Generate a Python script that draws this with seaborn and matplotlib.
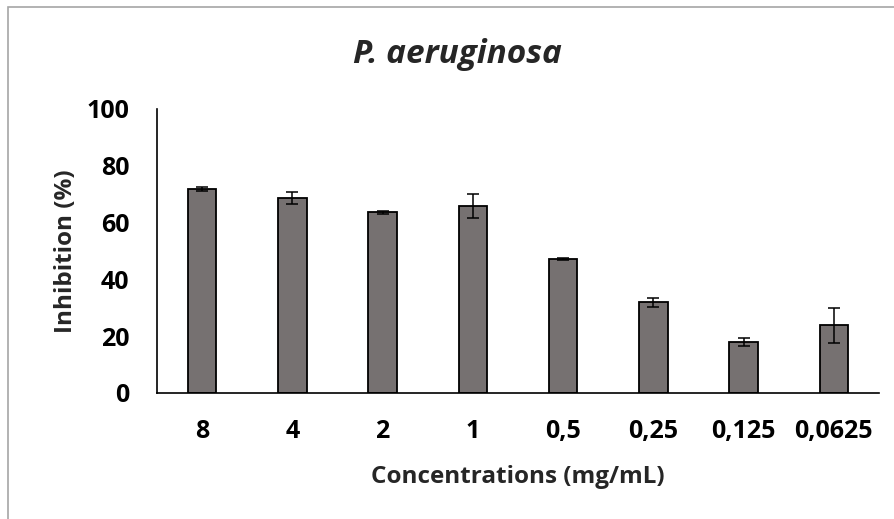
import matplotlib
matplotlib.use("Agg")
import matplotlib.pyplot as plt
import seaborn as sns
import pandas as pd
import numpy as np
from matplotlib.patches import Rectangle

categories = ["8", "4", "2", "1", "0,5", "0,25", "0,125", "0,0625"]
inhibition = [71.8, 68.5, 63.6, 65.9, 47.2, 31.9, 18.0, 23.9]
errors = [0.6, 2.1, 0.4, 4.3, 0.4, 1.6, 1.3, 6.2]
yticks = [0, 20, 40, 60, 80, 100]

sns.set_theme(style="white")
plt.rcParams['font.family'] = ['Open Sans', 'DejaVu Sans']

df = pd.DataFrame({"conc": categories, "inh": inhibition})

fig = plt.figure(figsize=(8.95, 5.19), dpi=100)
ax = fig.add_axes([157/895, 1-393/519, (879-157)/895, (393-109)/519])

sns.barplot(data=df, x="conc", y="inh", order=categories, color="#767171",
            saturation=1, width=0.314, edgecolor="black", linewidth=1.3, ax=ax,
            errorbar=None)

xs = [p.get_x() + p.get_width()/2 for p in ax.patches]
ax.errorbar(xs, inhibition, yerr=errors, fmt="none", ecolor="black",
            elinewidth=1.1, capsize=4.5, capthick=1.1, zorder=5)

ax.set_ylim(0, 100)
ax.set_xlim(-0.5, len(categories) - 0.5)
ax.set_yticks(yticks)
ax.set_yticklabels([str(t) for t in yticks])
ax.tick_params(axis="both", length=0, labelsize=18, colors="black")
ax.tick_params(axis="y", pad=20)
ax.tick_params(axis="x", pad=19)
for lbl in ax.get_xticklabels() + ax.get_yticklabels():
    lbl.set_fontweight("bold")

ax.set_xlabel("Concentrations (mg/mL)", fontsize=17.5, fontweight="bold", labelpad=15)
ax.set_ylabel("Inhibition (%)", fontsize=17.5, fontweight="bold", labelpad=6)

for s in ["top", "right"]:
    ax.spines[s].set_visible(False)
for s in ["left", "bottom"]:
    ax.spines[s].set_color("black")
    ax.spines[s].set_linewidth(1.2)

fig.text(457/895, 1-54/519, "P. aeruginosa", ha="center", va="center",
         fontsize=24, fontweight="bold", fontstyle="italic")

fig.patches.append(Rectangle((8/895, -0.05), 1.1, (519-7)/519 + 0.05,
                             transform=fig.transFigure, fill=False,
                             edgecolor="#a6a6a6", linewidth=1.2))

fig.savefig("out.png", dpi=100)
